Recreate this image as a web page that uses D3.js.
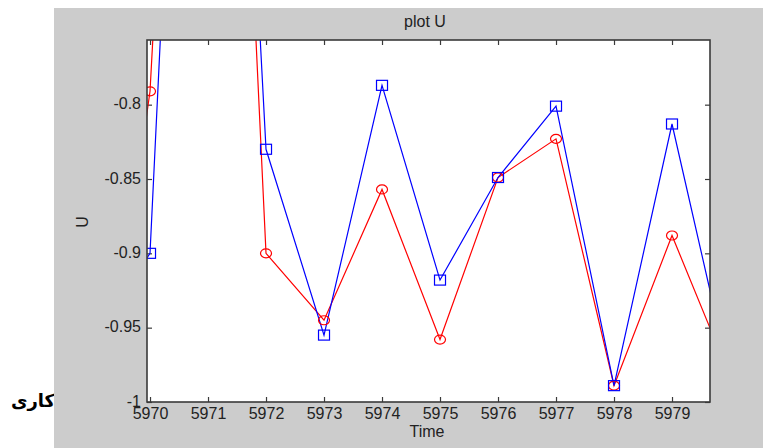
<!DOCTYPE html>
<html>
<head>
<meta charset="utf-8">
<script src="https://cdn.jsdelivr.net/npm/d3@7"></script>
<style>
  body { margin: 0; background: #fff; }
  svg text { font-family: Arial, "Liberation Sans", sans-serif; }
</style>
</head>
<body>
<svg id="chart"></svg>
<script>
// plot U against Time, two series (red circles, blue squares)

var width = 763;
var height = 448;

var times = [5969, 5970, 5971, 5972, 5973, 5974, 5975, 5976, 5977, 5978, 5979, 5980];
var uRed  = [-1.07, -0.791, -0.07, -0.900, -0.945, -0.857, -0.958, -0.849, -0.823, -0.989, -0.888, -0.983];
var uBlue = [-0.96, -0.900, -0.09, -0.830, -0.955, -0.787, -0.918, -0.849, -0.801, -0.989, -0.813, -0.984];
var xTicks = [5970, 5971, 5972, 5973, 5974, 5975, 5976, 5977, 5978, 5979];
var yTicks = [-1, -0.95, -0.9, -0.85, -0.8];
var yTickLabels = ["-1", "-0.95", "-0.9", "-0.85", "-0.8"];

var plot = {left: 147, right: 710, top: 40, bottom: 402};

var xScale = d3.scaleLinear()
                  .domain([5969.948, 5979.655])
                  .range([plot.left, plot.right]);

var yScale = d3.scaleLinear()
                  .domain([-1, -0.7565])
                  .range([plot.bottom, plot.top]);

var svg = d3.select('#chart')
              .attr('width', width)
              .attr('height', height);

// persian fragment at the left, partly hidden by the grey figure
svg.append("text")
    .attr("x", 55)
    .attr("y", 407)
    .attr("text-anchor", "end")
    .style("font-family", "'DejaVu Sans', sans-serif")
    .style("font-weight", "bold")
    .style("font-size", "18px")
    .style("fill", "#000")
    .text("کاری");

// grey figure background
svg.append("rect")
    .attr("x", 54)
    .attr("y", 8)
    .attr("width", width - 54)
    .attr("height", height - 8)
    .attr("fill", "#cccccc");

// white axes area
svg.append("rect")
    .attr("x", plot.left)
    .attr("y", plot.top)
    .attr("width", plot.right - plot.left)
    .attr("height", plot.bottom - plot.top)
    .attr("fill", "#fff");

svg.append("clipPath")
    .attr("id", "clip")
  .append("rect")
    .attr("x", plot.left)
    .attr("y", plot.top)
    .attr("width", plot.right - plot.left)
    .attr("height", plot.bottom - plot.top);

var axisColor = "#3a3a3a";
var textColor = "#222";

function styleAxis(g) {
  g.select(".domain").remove();
  g.selectAll("line").attr("stroke", axisColor).attr("stroke-width", 1.2);
  g.selectAll("text").style("font-size", "16px").attr("fill", textColor);
}

svg.append("g")
    .attr("transform", "translate(0," + plot.bottom + ")")
    .call(d3.axisBottom(xScale).tickValues(xTicks).tickFormat(d3.format("d"))
            .tickSizeInner(-5).tickSizeOuter(0).tickPadding(6))
    .call(styleAxis);

svg.append("g")
    .attr("transform", "translate(0," + plot.top + ")")
    .call(d3.axisTop(xScale).tickValues(xTicks).tickFormat("")
            .tickSizeInner(-5).tickSizeOuter(0))
    .call(styleAxis);

svg.append("g")
    .attr("transform", "translate(" + plot.left + ",0)")
    .call(d3.axisLeft(yScale).tickValues(yTicks).tickFormat((d, i) => yTickLabels[i])
            .tickSizeInner(-5).tickSizeOuter(0).tickPadding(6))
    .call(styleAxis)
    .call(g => g.selectAll("text").attr("dy", "0.25em"));

svg.append("g")
    .attr("transform", "translate(" + plot.right + ",0)")
    .call(d3.axisRight(yScale).tickValues(yTicks).tickFormat("")
            .tickSizeInner(-5).tickSizeOuter(0))
    .call(styleAxis);

// lines and markers
var line = d3.line()
              .x((d, i) => xScale(times[i]))
              .y(d => yScale(d));

var marks = svg.append("g").attr("clip-path", "url(#clip)");

marks.append("path")
    .datum(uRed)
    .attr("d", line)
    .attr("fill", "none")
    .attr("stroke", "#ff0000")
    .attr("stroke-width", 1.2);

marks.append("path")
    .datum(uBlue)
    .attr("d", line)
    .attr("fill", "none")
    .attr("stroke", "#0000ff")
    .attr("stroke-width", 1.2);

marks.selectAll("ellipse")
    .data(uRed)
    .enter()
    .append("ellipse")
      .attr("cx", (d, i) => xScale(times[i]))
      .attr("cy", d => yScale(d))
      .attr("rx", 5.5)
      .attr("ry", 4.5)
      .attr("fill", "none")
      .attr("stroke", "#ff0000")
      .attr("stroke-width", 1.2);

marks.selectAll("rect.sq")
    .data(uBlue)
    .enter()
    .append("rect")
      .attr("class", "sq")
      .attr("x", (d, i) => xScale(times[i]) - 5.5)
      .attr("y", d => yScale(d) - 5)
      .attr("width", 11)
      .attr("height", 10)
      .attr("fill", "none")
      .attr("stroke", "#0000ff")
      .attr("stroke-width", 1.2);

// frame
svg.append("rect")
    .attr("x", plot.left)
    .attr("y", plot.top)
    .attr("width", plot.right - plot.left)
    .attr("height", plot.bottom - plot.top)
    .attr("fill", "none")
    .attr("stroke", axisColor)
    .attr("stroke-width", 1.6);

// labels
svg.append("text")
    .attr("x", 425)
    .attr("y", 27)
    .attr("text-anchor", "middle")
    .style("font-size", "16px")
    .attr("fill", textColor)
    .text("plot U");

svg.append("text")
    .attr("x", 427)
    .attr("y", 437)
    .attr("text-anchor", "middle")
    .style("font-size", "16px")
    .attr("fill", textColor)
    .text("Time");

svg.append("text")
    .attr("transform", "translate(88,222) rotate(-90)")
    .attr("text-anchor", "middle")
    .style("font-size", "16px")
    .attr("fill", textColor)
    .text("U");
</script>
</body>
</html>
